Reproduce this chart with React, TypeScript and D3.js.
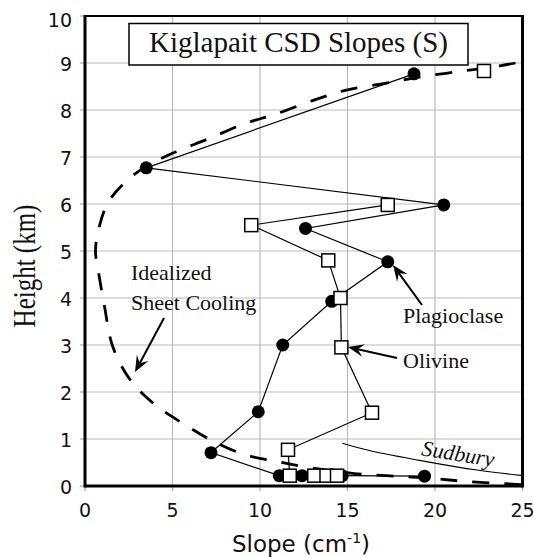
import React from "react";
import * as d3 from "d3";

const plagSlope = [18.8, 3.5, 20.5, 12.6, 17.3, 14.1, 11.3, 9.9, 7.2, 11.1, 12.4, 14.7, 19.4];
const plagHeight = [8.77, 6.77, 5.98, 5.48, 4.77, 3.93, 3.0, 1.58, 0.71, 0.22, 0.22, 0.22, 0.21];

const olivTopSlope = [22.8];
const olivTopHeight = [8.83];
const olivSlope = [17.3, 9.5, 13.9, 14.6, 14.65, 16.4, 11.6, 11.7, 13.1, 13.8, 14.4];
const olivHeight = [5.98, 5.55, 4.8, 4.0, 2.95, 1.56, 0.77, 0.22, 0.22, 0.22, 0.22];

const coolSlope = [24.6, 23.7, 21.4, 19.1, 17.2, 15.0, 13.0, 10.8, 9.2, 7.0, 5.0, 3.5, 2.4, 1.35, 0.8, 0.6, 0.75, 1.1, 1.6, 2.6, 3.9, 5.6, 7.5, 9.2, 11.0, 13.0, 15.3, 19.5, 22.0, 25.0];
const coolHeight = [9.0, 8.94, 8.82, 8.7, 8.57, 8.43, 8.2, 7.9, 7.72, 7.38, 7.08, 6.8, 6.5, 6.05, 5.5, 5.0, 4.6, 3.85, 2.95, 2.25, 1.76, 1.33, 0.92, 0.66, 0.52, 0.38, 0.27, 0.17, 0.09, 0.03];

const sudSlope = [14.7, 16.3, 19.5, 22.4, 25.0];
const sudHeight = [0.91, 0.75, 0.52, 0.34, 0.22];

const xTicks = [0, 5, 10, 15, 20, 25];
const yTicks = [0, 1, 2, 3, 4, 5, 6, 7, 8, 9, 10];

const W = 534;
const H = 557;
const L = 85, R = 522.5, T = 16, B = 486;

function zip(a: number[], b: number[]): [number, number][] {
  return a.map((v, i) => [v, b[i]]);
}

function Arrow({ x1, y1, x2, y2 }: { x1: number; y1: number; x2: number; y2: number }) {
  const ang = Math.atan2(y2 - y1, x2 - x1);
  const len = 16, half = 6.5, notch = 10;
  const ux = Math.cos(ang), uy = Math.sin(ang);
  const px = -uy, py = ux;
  const bx = x2 - ux * len, by = y2 - uy * len;
  const nx = x2 - ux * notch, ny = y2 - uy * notch;
  const pts = [
    [x2, y2],
    [bx + px * half, by + py * half],
    [nx, ny],
    [bx - px * half, by - py * half],
  ];
  return (
    <g>
      <line x1={x1} y1={y1} x2={nx} y2={ny} stroke="#000" strokeWidth={2} />
      <polygon points={pts.map((p) => p.join(",")).join(" ")} fill="#000" />
    </g>
  );
}

export default function App() {
  const x = d3.scaleLinear().domain([0, 25]).range([L, R]);
  const y = d3.scaleLinear().domain([0, 10]).range([B, T]);
  const line = d3.line<[number, number]>().x((d) => x(d[0])).y((d) => y(d[1]));
  const curve = d3
    .line<[number, number]>()
    .x((d) => x(d[0]))
    .y((d) => y(d[1]))
    .curve(d3.curveCatmullRom.alpha(0.5));

  const plag = zip(plagSlope, plagHeight);
  const oliv = zip(olivSlope, olivHeight);
  const olivTop = zip(olivTopSlope, olivTopHeight);
  const cool = zip(coolSlope, coolHeight);
  const sud = zip(sudSlope, sudHeight);

  const sans = "'DejaVu Sans', Verdana, sans-serif";
  const serif = "'Liberation Serif', 'Times New Roman', serif";

  return (
    <svg width={W} height={H} style={{ position: "absolute", left: 0, top: 0, background: "#fff" }}>
      <rect x={0} y={0} width={W} height={H} fill="#fff" />
      {/* grid */}
      {xTicks.slice(1, -1).map((t) => (
        <line key={"gx" + t} x1={x(t)} x2={x(t)} y1={T} y2={B} stroke="#bbb" strokeWidth={1.2} />
      ))}
      {yTicks.slice(1, -1).map((t) => (
        <line key={"gy" + t} x1={L} x2={R} y1={y(t)} y2={y(t)} stroke="#bbb" strokeWidth={1.2} />
      ))}
      {/* ticks */}
      {xTicks.map((t) => (
        <line key={"tx" + t} x1={x(t)} x2={x(t)} y1={B} y2={B + 5} stroke="#999" strokeWidth={1} />
      ))}
      {yTicks.map((t) => (
        <line key={"ty" + t} x1={L - 5} x2={L} y1={y(t)} y2={y(t)} stroke="#999" strokeWidth={1} />
      ))}
      {/* tick labels */}
      {xTicks.map((t) => (
        <text key={"lx" + t} x={x(t)} y={516.5} textAnchor="middle" fontFamily={sans} fontSize={19} fill="#111">
          {t}
        </text>
      ))}
      {yTicks.map((t) => (
        <text key={"ly" + t} x={72} y={y(t) + (t === 10 ? 11 : 7.5)} textAnchor="end" fontFamily={sans} fontSize={19} fill="#111">
          {t}
        </text>
      ))}
      {/* axis titles */}
      <text x={301} y={552} textAnchor="middle" fontFamily={sans} fontSize={23} fill="#111">
        Slope (cm<tspan fontSize={14} dy={-9}>-1</tspan><tspan dy={9}>)</tspan>
      </text>
      <text
        transform={`translate(35,266) rotate(-90) scale(1,1.25)`}
        textAnchor="middle"
        fontFamily={serif}
        fontSize={25}
        fill="#111"
      >
        Height (km)
      </text>

      {/* idealized cooling dashed */}
      <path d={curve(cool) || ""} fill="none" stroke="#000" strokeWidth={2.8} strokeDasharray="17,15" />
      {/* Sudbury */}
      <path d={curve(sud) || ""} fill="none" stroke="#000" strokeWidth={1.2} />
      <text
        transform={`translate(457,461) rotate(9)`}
        textAnchor="middle"
        fontFamily={serif}
        fontStyle="italic"
        fontSize={22}
        fill="#111"
      >
        Sudbury
      </text>

      {/* series lines */}
      <path d={line(plag) || ""} fill="none" stroke="#000" strokeWidth={1.2} />
      <path d={line(oliv) || ""} fill="none" stroke="#000" strokeWidth={1.2} />

      {/* markers */}
      {plag.map((d, i) => (
        <circle key={"p" + i} cx={x(d[0])} cy={y(d[1])} r={6.5} fill="#000" />
      ))}
      {[...oliv, ...olivTop].map((d, i) => (
        <rect key={"o" + i} x={x(d[0]) - 6.5} y={y(d[1]) - 6.5} width={13} height={13} fill="#fff" stroke="#000" strokeWidth={1.5} />
      ))}

      {/* frame */}
      <line x1={L} x2={R} y1={T} y2={T} stroke="#000" strokeWidth={2.2} />
      <line x1={L} x2={L} y1={T - 1} y2={B + 1.5} stroke="#000" strokeWidth={3} />
      <line x1={R} x2={R} y1={T - 1} y2={B + 1.5} stroke="#000" strokeWidth={3} />
      <line x1={L} x2={R} y1={B} y2={B} stroke="#000" strokeWidth={3} />

      {/* title box */}
      <rect x={129} y={23.5} width={339} height={41.5} fill="#fff" stroke="#000" strokeWidth={1.5} />
      <text x={298.5} y={52} textAnchor="middle" fontFamily={serif} fontSize={29} fill="#111">
        Kiglapait CSD Slopes (S)
      </text>

      {/* annotations */}
      <text x={131} y={280} fontFamily={serif} fontSize={22} fill="#111">Idealized</text>
      <text x={131} y={309.5} fontFamily={serif} fontSize={22} fill="#111">Sheet Cooling</text>
      <Arrow x1={164} y1={318} x2={135} y2={372} />
      <text x={403} y={323} fontFamily={serif} fontSize={22} fill="#111">Plagioclase</text>
      <Arrow x1={422} y1={305} x2={393} y2={265} />
      <text x={403} y={368} fontFamily={serif} fontSize={22} fill="#111">Olivine</text>
      <Arrow x1={397} y1={358} x2={348} y2={347} />
    </svg>
  );
}
